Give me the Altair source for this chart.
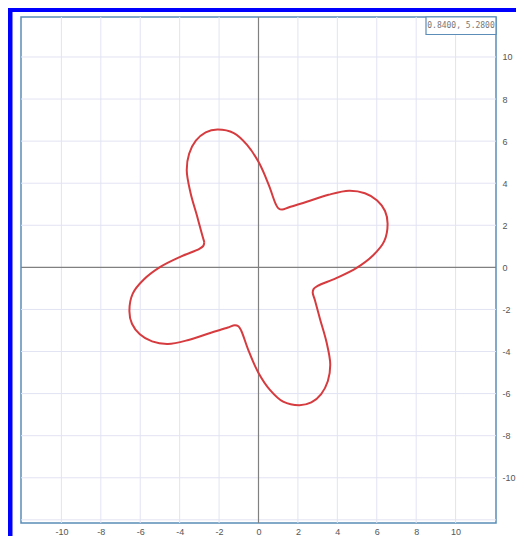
import altair as alt
import pandas as pd

# Curve points (clockwise, starting at the dent left of the top petal)
curve_x = [
    -2.75, -2.86, -3.12, -3.45, -3.64, -3.52, -3.18, -2.68, -2.08, -1.25, -0.58, 0.02, 0.52, 0.88, 1.02,
    1.20, 1.55, 2.45, 3.55, 4.60, 5.40, 6.02, 6.42, 6.55, 6.38, 5.82, 4.98, 3.92, 3.00, 2.80,
    2.75, 2.86, 3.12, 3.45, 3.64, 3.52, 3.18, 2.68, 2.08, 1.25, 0.58, -0.02, -0.52, -0.88, -1.02,
    -1.20, -1.55, -2.45, -3.55, -4.60, -5.40, -6.02, -6.42, -6.55, -6.38, -5.82, -4.98, -3.92, -3.00, -2.80,
    -2.75,
]
curve_y = [
    1.20, 1.55, 2.45, 3.55, 4.60, 5.40, 6.02, 6.42, 6.55, 6.38, 5.82, 4.98, 3.92, 3.00, 2.80,
    2.75, 2.86, 3.12, 3.45, 3.64, 3.52, 3.18, 2.68, 2.08, 1.25, 0.58, -0.02, -0.52, -0.88, -1.02,
    -1.20, -1.55, -2.45, -3.55, -4.60, -5.40, -6.02, -6.42, -6.55, -6.38, -5.82, -4.98, -3.92, -3.00, -2.80,
    -2.75, -2.86, -3.12, -3.45, -3.64, -3.52, -3.18, -2.68, -2.08, -1.25, -0.58, 0.02, 0.52, 0.88, 1.02,
    1.20,
]

grid_x = [-10, -8, -6, -4, -2, 2, 4, 6, 8, 10]
grid_y = [-12, -10, -8, -6, -4, -2, 2, 4, 6, 8, 10]
tick_vals = [-10, -8, -6, -4, -2, 0, 2, 4, 6, 8, 10]
coord_text = ["0.8400, 5.2800"]

W, H = 475, 506
xs = alt.Scale(domain=[-12.05, 12.05], nice=False, zero=False)
ys = alt.Scale(domain=[-12.15, 11.9], nice=False, zero=False)

curve_df = pd.DataFrame({"x": curve_x, "y": curve_y, "i": list(range(len(curve_x)))})
gx_df = pd.DataFrame({"x": grid_x})
gy_df = pd.DataFrame({"y": grid_y})
zx_df = pd.DataFrame({"x": [0]})
zy_df = pd.DataFrame({"y": [0]})
one_df = pd.DataFrame({"a": [0]})
text_df = pd.DataFrame({"t": coord_text})

grid_color = "#e2e3f3"
label_expr = "datum.value < 0 ? '-' + abs(datum.value) : '' + datum.value"

x_axis = alt.Axis(
    values=tick_vals, grid=False, ticks=False, domain=False, title=None,
    labelFontSize=9, labelColor="#555555", labelPadding=4,
    labelFont="Liberation Sans", labelExpr=label_expr)
y_axis = alt.Axis(
    orient="right", values=tick_vals, grid=False, ticks=False, domain=False, title=None,
    labelFontSize=9, labelColor="#555555", labelPadding=6,
    labelFont="Liberation Sans", labelExpr=label_expr)

X = alt.X("x:Q", scale=xs, axis=x_axis)
Y = alt.Y("y:Q", scale=ys, axis=y_axis)

border = alt.Chart(one_df).mark_rect(
    filled=False, stroke="#0000ff", strokeWidth=5
).encode(x=alt.value(-11), x2=alt.value(700), y=alt.value(-7.5), y2=alt.value(700))

vgrid = alt.Chart(gx_df).mark_rule(color=grid_color, strokeWidth=1).encode(
    x=X, y=alt.value(0), y2=alt.value(H)
)
hgrid = alt.Chart(gy_df).mark_rule(color=grid_color, strokeWidth=1).encode(
    y=Y, x=alt.value(0), x2=alt.value(W)
)
vaxis = alt.Chart(zx_df).mark_rule(color="#808080", strokeWidth=1.2).encode(
    x=X, y=alt.value(0), y2=alt.value(H)
)
haxis = alt.Chart(zy_df).mark_rule(color="#808080", strokeWidth=1.2).encode(
    y=Y, x=alt.value(0), x2=alt.value(W)
)

curve = alt.Chart(curve_df).mark_line(
    color="#d63c3f", strokeWidth=2, interpolate="catmull-rom"
).encode(x=X, y=Y, order="i:Q")

box = alt.Chart(one_df).mark_rect(fill="white", stroke="#5b8db8", strokeWidth=1.2).encode(
    x=alt.value(405), x2=alt.value(475), y=alt.value(0), y2=alt.value(17.5)
)
box_text = alt.Chart(text_df).mark_text(
    font="DejaVu Sans Mono", fontSize=8, color="#777777", align="center", baseline="middle"
).encode(x=alt.value(440), y=alt.value(9), text="t:N")

chart = alt.layer(
    vgrid, hgrid, vaxis, haxis, curve, box, box_text, border
).properties(
    width=W, height=H,
    padding={"left": 13, "top": 9, "right": 20, "bottom": 13},
    autosize=alt.AutoSizeParams(type="none"),
    background="white",
).configure_view(stroke="#5b8db8", strokeWidth=1.5)

chart.save("out.html", embed_options={"renderer": "svg", "actions": False})
